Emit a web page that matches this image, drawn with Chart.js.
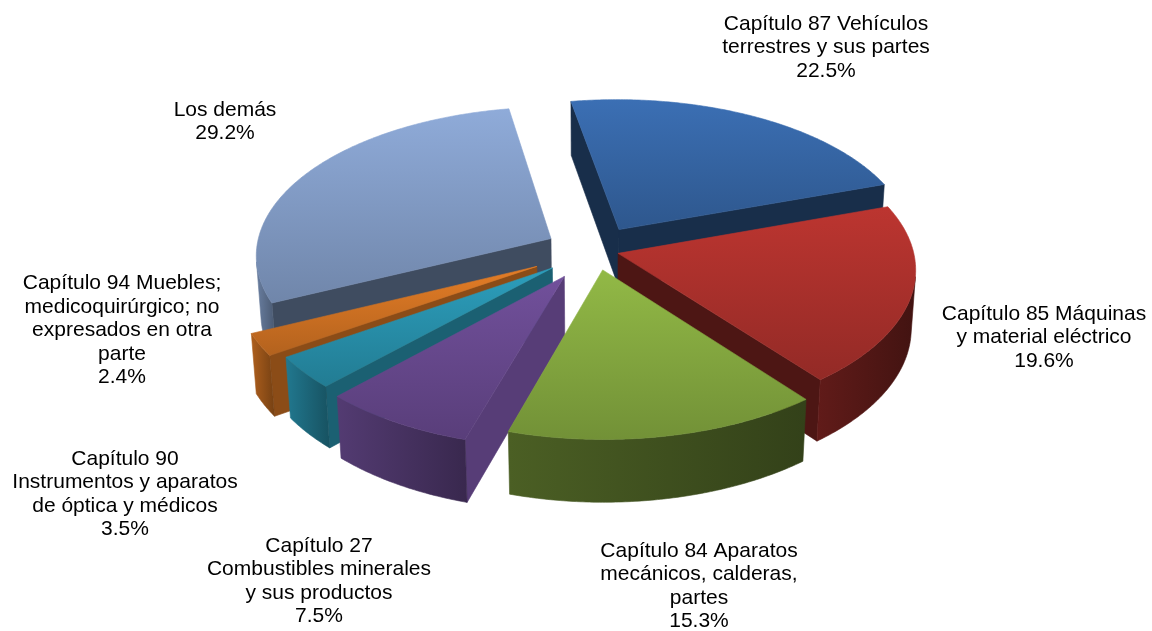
<!DOCTYPE html>
<html>
<head>
<meta charset="utf-8">
<script src="https://cdn.jsdelivr.net/npm/chart.js@4"></script>
<style>
  html, body { margin: 0; background: #fff; }
  #wrap { width: 1152px; height: 631px; position: relative; }
</style>
</head>
<body>
<div id="wrap"><canvas id="pie"></canvas></div>
<script>
// categories (already wrapped the way the labels show)
const categories = [
  ['Capítulo 87 Vehículos', 'terrestres y sus partes'],
  ['Capítulo 85 Máquinas', 'y material eléctrico'],
  ['Capítulo 84 Aparatos', 'mecánicos, calderas,', 'partes'],
  ['Capítulo 27', 'Combustibles minerales', 'y sus productos'],
  ['Capítulo 90', 'Instrumentos y aparatos', 'de óptica y médicos'],
  ['Capítulo 94 Muebles;', 'medicoquirúrgico; no', 'expresados en otra', 'parte'],
  ['Los demás']
];
const shares = [22.5, 19.6, 15.3, 7.5, 3.5, 2.4, 29.2];

// look
const colors   = ['#3A6DB0', '#B8342F', '#8FB545', '#6F4E98', '#2B9BB8', '#E07B25', '#8CA8D5'];
const rimTone  = [0.42, 0.42, 0.42, 0.6, 0.62, 0.62, 0.6];
const cutTone  = [0.42, 0.42, 0.42, 0.78, 0.62, 0.62, 0.45];
const explode  = [48, 24, 40, 60, 55, 66, 50];
// centre of each label block
const labelAt  = [[826, 47.5], [1044, 337.5], [699, 586], [319, 581], [125, 494], [122, 330.5], [225, 121.5]];

const view = { sin: 0.5, persp: 0.12, depth: 68 };

function hexRgb(h) { const n = parseInt(h.slice(1), 16); return [n >> 16 & 255, n >> 8 & 255, n & 255]; }
function tone(h, f) {
  const c = hexRgb(h).map(v => Math.max(0, Math.min(255, Math.round(v * f))));
  return 'rgb(' + c.join(',') + ')';
}

// pie plane -> screen, X right, Z towards viewer, Y up
function project(cx, cy, R, X, Z, Y) {
  const ca = Math.sqrt(1 - view.sin * view.sin);
  const den = 1 - view.persp * (Z * ca + Y * view.sin) / R;
  return [cx + X / den, cy + (Z * view.sin - Y * ca) / den];
}

function area(p) {
  let s = 0;
  for (let i = 0; i < p.length; i++) {
    const a = p[i], b = p[(i + 1) % p.length];
    s += a[0] * b[1] - b[0] * a[1];
  }
  return s / 2;
}

function fillPoly(ctx, pts, style) {
  ctx.beginPath();
  pts.forEach((p, i) => i ? ctx.lineTo(p[0], p[1]) : ctx.moveTo(p[0], p[1]));
  ctx.closePath();
  ctx.fillStyle = style;
  ctx.strokeStyle = style;
  ctx.lineWidth = 0.6;
  ctx.fill();
  ctx.stroke();
}

function drawSlice(ctx, el, i) {
  const R = el.outerRadius, cx = el.x, cy = el.y;
  const a0 = el.startAngle, a1 = el.endAngle, m = (a0 + a1) / 2;
  const e = el.options.offset || 0;
  const ox = e * Math.cos(m), oz = e * Math.sin(m);
  const h = view.depth;
  const P = (X, Z, Y) => project(cx, cy, R, X, Z, Y);
  const steps = Math.max(4, Math.ceil((a1 - a0) / 0.01));
  const top = [], bot = [];
  for (let k = 0; k <= steps; k++) {
    const a = a0 + (a1 - a0) * k / steps;
    const X = ox + R * Math.cos(a), Z = oz + R * Math.sin(a);
    top.push(P(X, Z, 0));
    bot.push(P(X, Z, -h));
  }
  const At = P(ox, oz, 0), Ab = P(ox, oz, -h);
  const base = colors[i], sf = rimTone[i];

  // cut faces
  const startFace = [top[0], At, Ab, bot[0]];
  const endFace = [At, top[steps], bot[steps], Ab];
  [startFace, endFace].forEach(f => { if (area(f) > 0) fillPoly(ctx, f, tone(base, cutTone[i])); });

  // rim, only the part turned to the viewer
  const drawRun = (s, t) => {
    const pts = top.slice(s, t + 1).concat(bot.slice(s, t + 1).reverse());
    const xs = pts.map(p => p[0]);
    const g = ctx.createLinearGradient(Math.min(...xs), 0, Math.max(...xs), 0);
    g.addColorStop(0, tone(base, sf * 1.25));
    g.addColorStop(1, tone(base, sf * 0.85));
    fillPoly(ctx, pts, g);
  };
  let run = null;
  for (let k = 0; k < steps; k++) {
    const vis = area([top[k + 1], top[k], bot[k], bot[k + 1]]) > 0;
    if (vis) { if (!run) run = [k, k + 1]; else run[1] = k + 1; }
    else if (run) { drawRun(run[0], run[1]); run = null; }
  }
  if (run) drawRun(run[0], run[1]);

  // top face
  const face = [At].concat(top);
  const ys = face.map(p => p[1]);
  const g = ctx.createLinearGradient(0, Math.min(...ys), 0, Math.max(...ys));
  g.addColorStop(0, tone(base, 1.02));
  g.addColorStop(1, tone(base, 0.8));
  fillPoly(ctx, face, g);
}

const pie3d = {
  id: 'pie3d',
  beforeDatasetsDraw(chart) {
    const meta = chart.getDatasetMeta(0);
    const ctx = chart.ctx;
    const key = el => {
      const m = (el.startAngle + el.endAngle) / 2;
      return Math.sin(m) * (el.outerRadius * 0.6 + (el.options.offset || 0));
    };
    const order = meta.data.map((el, i) => i).sort((a, b) => key(meta.data[a]) - key(meta.data[b]));
    ctx.save();
    ctx.lineJoin = 'round';
    order.forEach(i => drawSlice(ctx, meta.data[i], i));
    ctx.restore();
    return false;
  },
  afterDraw(chart) {
    const ctx = chart.ctx;
    const lh = 23.5;
    ctx.save();
    ctx.font = '21px "Liberation Sans", Arial, sans-serif';
    ctx.fillStyle = '#000';
    ctx.textAlign = 'center';
    ctx.textBaseline = 'middle';
    chart.data.labels.forEach((lab, i) => {
      const lines = lab.concat([chart.data.datasets[0].data[i].toFixed(1) + '%']);
      const [x, yc] = labelAt[i];
      const y0 = yc - (lines.length - 1) * lh / 2;
      lines.forEach((t, k) => ctx.fillText(t, x, y0 + k * lh));
    });
    ctx.restore();
  }
};

new Chart(document.getElementById('pie'), {
  type: 'pie',
  data: {
    labels: categories,
    datasets: [{
      data: shares,
      backgroundColor: colors,
      offset: explode,
      borderWidth: 0,
      radius: 295
    }]
  },
  options: {
    responsive: true,
    maintainAspectRatio: false,
    animation: false,
    rotation: -10,
    events: [],
    layout: { padding: { left: 38, bottom: 131 } },
    plugins: { legend: { display: false }, tooltip: { enabled: false } }
  },
  plugins: [pie3d]
});
</script>
</body>
</html>
